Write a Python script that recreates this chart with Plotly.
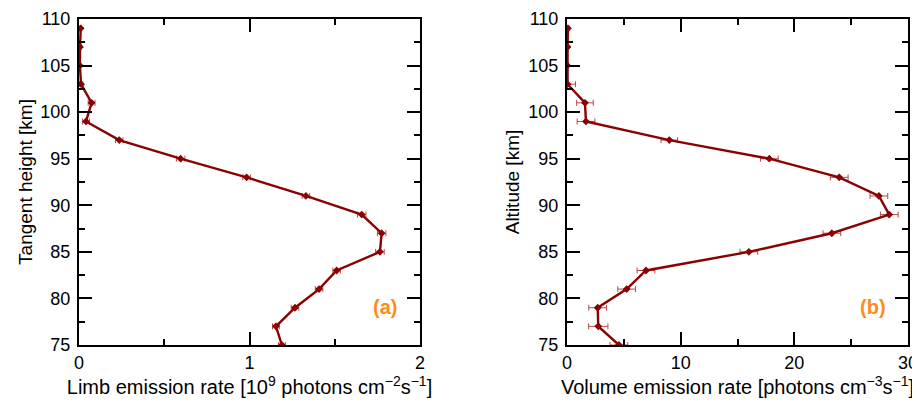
import plotly.graph_objects as go

altitude = [75, 77, 79, 81, 83, 85, 87, 89, 91, 93, 95, 97, 99, 101, 103, 105, 107, 109]
limb_rate = [1.19, 1.155, 1.267, 1.408, 1.511, 1.765, 1.775, 1.658, 1.331, 0.983, 0.596, 0.236, 0.041, 0.074, 0.012, 0.005, 0.006, 0.010]
limb_err = [0.02, 0.02, 0.022, 0.022, 0.022, 0.025, 0.025, 0.025, 0.022, 0.022, 0.025, 0.022, 0.02, 0.02, 0.01, 0.005, 0.005, 0.005]
ver_rate = [4.57, 2.75, 2.70, 5.25, 6.95, 16.0, 23.3, 28.35, 27.44, 23.95, 17.8, 9.0, 1.67, 1.58, 0.05, 0.03, 0.05, 0.08]
ver_err = [0.78, 0.85, 0.78, 0.78, 0.78, 0.78, 0.78, 0.78, 0.78, 0.78, 0.78, 0.73, 0.78, 0.73, 0.7, 0.05, 0.1, 0.1]
y_ticks = [75, 80, 85, 90, 95, 100, 105, 110]
y_minor = [77.5, 82.5, 87.5, 92.5, 97.5, 102.5, 107.5]

line_color = "#8b0000"
err_color = "#b54a4a"
font_family = "Liberation Sans, Arial, sans-serif"

W, H = 920, 404
OFF = 8  # page body margin


def px_x(p):
    return (p - OFF) / W


def px_y(p):
    return 1 - (p - OFF) / H


fig = go.Figure()
fig.add_trace(go.Scatter(
    x=limb_rate, y=altitude, mode="lines+markers",
    line=dict(color=line_color, width=2.4),
    marker=dict(symbol="diamond", size=6, color=line_color),
    error_x=dict(type="data", array=limb_err, color=err_color, thickness=1, width=3),
    xaxis="x", yaxis="y", showlegend=False,
))
fig.add_trace(go.Scatter(
    x=ver_rate, y=altitude, mode="lines+markers",
    line=dict(color=line_color, width=2.4),
    marker=dict(symbol="diamond", size=6, color=line_color),
    error_x=dict(type="data", array=ver_err, color=err_color, thickness=1, width=3),
    xaxis="x2", yaxis="y2", showlegend=False,
))

common = dict(
    showline=True, linecolor="black", linewidth=2, mirror="ticks",
    ticks="inside", ticklen=13, tickwidth=2, tickcolor="black",
    showgrid=False, zeroline=False,
    tickfont=dict(family=font_family, size=18, color="black"),
    minor=dict(ticks="inside", ticklen=6, tickwidth=2, tickcolor="black", showgrid=False),
    automargin=False,
)
xcommon = dict(common)
ycommon = dict(common, ticklabelstandoff=3)

ydom = [px_y(345), px_y(19)]
fig.update_layout(
    width=W, height=H,
    margin=dict(l=0, r=0, t=0, b=0),
    paper_bgcolor="white", plot_bgcolor="white",
    font=dict(family=font_family, size=19, color="black"),
    xaxis=dict(domain=[px_x(79), px_x(420)], range=[0, 2], tickvals=[0, 1, 2],
               minor_tickvals=[0.5, 1.5], anchor="y",
               title=dict(text="Limb emission rate [10<sup>9</sup> photons cm<sup>−2</sup>s<sup>−1</sup>]",
                          font=dict(size=20), standoff=6), **xcommon),
    yaxis=dict(domain=ydom, range=[75, 110], tickvals=y_ticks,
               minor_tickvals=y_minor, anchor="x",
               title=dict(text="Tangent height [km]", font=dict(size=19), standoff=3), **ycommon),
    xaxis2=dict(domain=[px_x(567), px_x(908)], range=[0, 30], tickvals=[0, 10, 20, 30],
                minor_tickvals=[5, 15, 25], anchor="y2",
                title=dict(text="Volume emission rate [photons cm<sup>−3</sup>s<sup>−1</sup>]",
                           font=dict(size=20), standoff=6), **xcommon),
    yaxis2=dict(domain=ydom, range=[75, 110], tickvals=y_ticks,
                minor_tickvals=y_minor, anchor="x2",
                title=dict(text="Altitude [km]", font=dict(size=19), standoff=4), **ycommon),
    annotations=[
        dict(text="<b>(a)</b>", x=px_x(385), y=px_y(307), xref="paper", yref="paper",
             xanchor="center", yanchor="middle", showarrow=False,
             font=dict(family=font_family, size=20, color="#ff8c1a")),
        dict(text="<b>(b)</b>", x=px_x(873), y=px_y(307), xref="paper", yref="paper",
             xanchor="center", yanchor="middle", showarrow=False,
             font=dict(family=font_family, size=20, color="#ff8c1a")),
    ],
)

fig.write_html("out.html")
